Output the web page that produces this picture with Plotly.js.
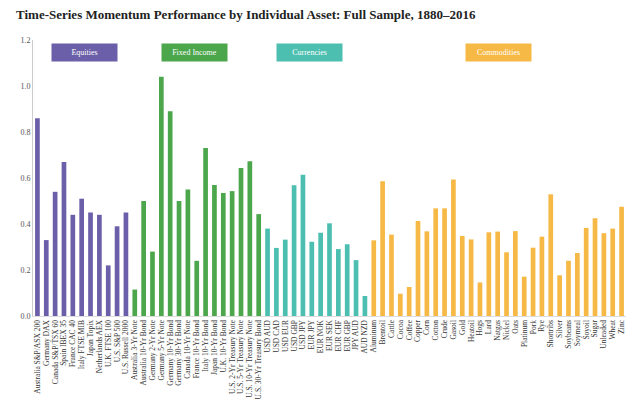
<!DOCTYPE html>
<html>
<head>
<meta charset="utf-8">
<script src="https://cdn.plot.ly/plotly-3.0.1.min.js"></script>
<style>html,body{margin:0;padding:0;background:#fff;}#chart{width:640px;height:402px;}</style>
</head>
<body>
<div id="chart"></div>
<script>
const equityLabels = ["Australia S&P/ASX 200","Germany DAX","Canada S&P/TSX 60","Spain IBEX 35","France CAC 40","Italy FTSE MIB","Japan Topix","Netherlands AEX","U.K. FTSE 100","U.S. S&P 500","U.S. Russell 2000"];
const equityValues = [0.86,0.33,0.54,0.67,0.44,0.51,0.45,0.44,0.22,0.39,0.45];

const fixedLabels = ["Australia 3-Yr Note","Australia 10-Yr Bond","Germany 2-Yr Note","Germany 5-Yr Note","Germany 10-Yr Bond","Germany 30-Yr Bond","Canada 10-Yr Note","France 10-Yr Bond","Italy 10-Yr Bond","Japan 10-Yr Bond","U.K. 10-Yr Bond","U.S. 2-Yr Treasury Note","U.S. 5-Yr Treasury Note","U.S. 10-Yr Treasury Note","U.S. 30-Yr Treasury Bond"];
const fixedValues = [0.115,0.50,0.28,1.04,0.89,0.50,0.55,0.24,0.73,0.57,0.535,0.543,0.643,0.673,0.443];

const currencyLabels = ["USD AUD","USD CAD","USD EUR","USD GBP","USD JPY","EUR JPY","EUR NOK","EUR SEK","EUR CHF","EUR GBP","JPY AUD","AUD NZD"];
const currencyValues = [0.38,0.296,0.332,0.568,0.614,0.323,0.362,0.403,0.291,0.312,0.243,0.087];

const commodityLabels = ["Aluminum","Brentoil","Cattle","Cocoa","Coffee","Copper","Corn","Cotton","Crude","Gasoil","Gold","Heatoil","Hogs","Lard","Natgas","Nickel","Oats","Platinum","Pork","Rye","Shortribs","Silver","Soybeans","Soymeal","Soyoil","Sugar","Unleaded","Wheat","Zinc"];
const commodityValues = [0.329,0.586,0.354,0.097,0.126,0.413,0.368,0.468,0.468,0.594,0.348,0.333,0.146,0.364,0.367,0.277,0.369,0.171,0.297,0.345,0.529,0.177,0.24,0.274,0.383,0.425,0.36,0.38,0.475];

const groupNames = ["Equities","Fixed Income","Currencies","Commodities"];
const groupColors = ["#6a5fa8","#4ca64c","#4dbfb1","#f6b946"];

const groups = [
  [equityLabels, equityValues],
  [fixedLabels, fixedValues],
  [currencyLabels, currencyValues],
  [commodityLabels, commodityValues]
];

const traces = groups.map((g, i) => ({
  type: "bar",
  x: g[0],
  y: g[1],
  name: groupNames[i],
  marker: {color: groupColors[i]},
  hoverinfo: "x+y"
}));

const allLabels = [].concat(equityLabels, fixedLabels, currencyLabels, commodityLabels);

const boxX = [0.0868, 0.273, 0.467, 0.785];
const annotations = groupNames.map((n, i) => ({
  text: n,
  xref: "paper", yref: "y",
  x: boxX[i], y: 1.145,
  xanchor: "center", yanchor: "middle",
  showarrow: false,
  bgcolor: groupColors[i],
  width: 65, height: 17,
  borderpad: 0,
  font: {family: "Liberation Serif, serif", size: 8, color: "#ffffff"}
}));

const layout = {
  width: 640, height: 402,
  margin: {l: 33, r: 14, t: 40, b: 86},
  paper_bgcolor: "#ffffff",
  plot_bgcolor: "#ffffff",
  showlegend: false,
  barmode: "overlay",
  bargap: 0.47,
  title: {
    text: "<b>Time-Series Momentum Performance by Individual Asset: Full Sample, 1880–2016</b>",
    xref: "container", yref: "container",
    x: 0.025, xanchor: "left",
    y: 0.975, yanchor: "top",
    font: {family: "Liberation Serif, serif", size: 13, color: "#222222"}
  },
  xaxis: {
    type: "category",
    tickmode: "array",
    tickvals: allLabels,
    ticktext: allLabels,
    tickangle: -90,
    showgrid: false,
    showline: true,
    linecolor: "#dddddd",
    linewidth: 1,
    ticks: "",
    tickfont: {family: "Liberation Serif, serif", size: 7.5, color: "#333333"},
    automargin: false
  },
  yaxis: {
    range: [0, 1.2],
    dtick: 0.2,
    tick0: 0,
    tickformat: ".1f",
    showgrid: false,
    zeroline: false,
    showline: true,
    linecolor: "#cccccc",
    linewidth: 1,
    ticks: "",
    tickfont: {family: "Liberation Serif, serif", size: 8, color: "#555555"},
    automargin: false
  },
  annotations: annotations
};

Plotly.newPlot("chart", traces, layout, {displayModeBar: false, staticPlot: true});
</script>
</body>
</html>
